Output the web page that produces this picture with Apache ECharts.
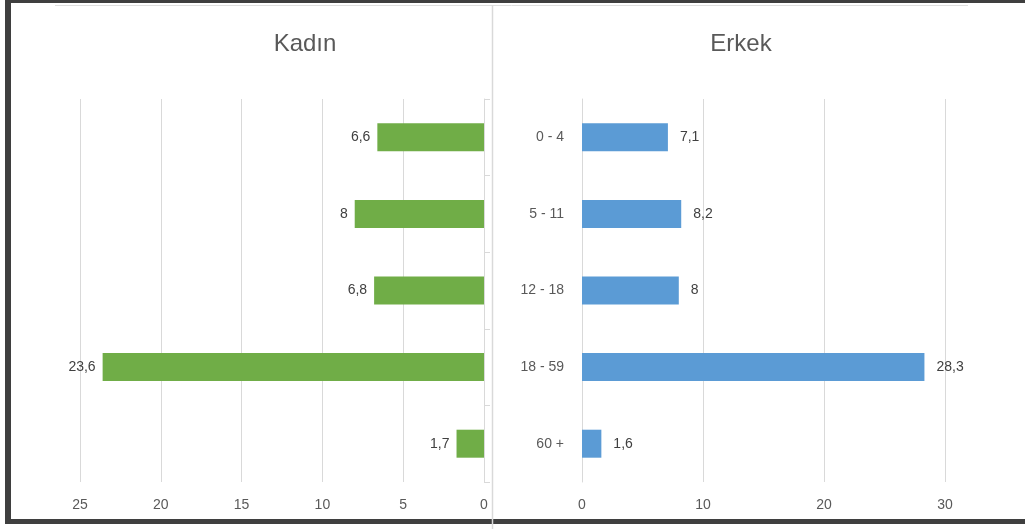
<!DOCTYPE html>
<html>
<head>
<meta charset="utf-8">
<script src="https://cdn.jsdelivr.net/npm/echarts@6/dist/echarts.min.js"></script>
<style>
  html, body { margin: 0; padding: 0; background: #fff; }
  #chart { width: 1025px; height: 529px; }
</style>
</head>
<body>
<div id="chart"></div>
<script>
const categories = ['0 - 4', '5 - 11', '12 - 18', '18 - 59', '60 +']
const kadin = [6.6, 8, 6.8, 23.6, 1.7]
const erkek = [7.1, 8.2, 8, 28.3, 1.6]

const font = 'Liberation Sans'
const fmt = p => String(p.value).replace('.', ',')

const chart = echarts.init(document.getElementById('chart'))

const option = {
  animation: false,
  textStyle: { fontFamily: font },
  graphic: [
    // outer frame
    { type: 'rect', shape: { x: 5, y: 0, width: 1020, height: 3 }, style: { fill: '#3f3f3f' } },
    { type: 'rect', shape: { x: 5, y: 0, width: 6, height: 524 }, style: { fill: '#3f3f3f' } },
    { type: 'rect', shape: { x: 5, y: 519, width: 1020, height: 5 }, style: { fill: '#3f3f3f' } },
    // right chart box edges
    { type: 'line', shape: { x1: 55, y1: 5.5, x2: 968, y2: 5.5 }, style: { stroke: '#dedede', lineWidth: 1 } },
    { type: 'line', shape: { x1: 492.5, y1: 5, x2: 492.5, y2: 529 }, style: { stroke: '#d9d9d9', lineWidth: 1.5 } },
    // titles
    { type: 'text', x: 305, y: 44, style: { text: 'Kadın', fontSize: 24, fontFamily: font, fill: '#595959', textAlign: 'center', textVerticalAlign: 'middle' } },
    { type: 'text', x: 741, y: 44, style: { text: 'Erkek', fontSize: 24, fontFamily: font, fill: '#595959', textAlign: 'center', textVerticalAlign: 'middle' } }
  ],
  grid: [
    { left: 80, top: 99, width: 404, height: 383 },
    { left: 582, top: 99, width: 363, height: 383 }
  ],
  xAxis: [
    {
      gridIndex: 0,
      type: 'value',
      inverse: true,
      min: 0,
      max: 25,
      interval: 5,
      axisLine: { show: false },
      axisTick: { show: false },
      splitLine: { lineStyle: { color: '#d9d9d9' } },
      axisLabel: { color: '#595959', fontSize: 14, margin: 16 }
    },
    {
      gridIndex: 1,
      type: 'value',
      min: 0,
      max: 30,
      interval: 10,
      axisLine: { show: false },
      axisTick: { show: false },
      splitLine: { lineStyle: { color: '#d9d9d9' } },
      axisLabel: { color: '#595959', fontSize: 14, margin: 16 }
    }
  ],
  yAxis: [
    {
      gridIndex: 0,
      type: 'category',
      position: 'right',
      inverse: true,
      data: categories,
      axisLine: { lineStyle: { color: '#d9d9d9' } },
      axisTick: { show: true, length: 6, lineStyle: { color: '#d9d9d9' } },
      axisLabel: { show: false }
    },
    {
      gridIndex: 1,
      type: 'category',
      position: 'left',
      inverse: true,
      data: categories,
      axisLine: { lineStyle: { color: '#d9d9d9' } },
      axisTick: { show: false },
      axisLabel: { color: '#595959', fontSize: 14, margin: 18 }
    }
  ],
  series: [
    {
      name: 'Kadın',
      type: 'bar',
      xAxisIndex: 0,
      yAxisIndex: 0,
      data: kadin,
      barWidth: 28,
      itemStyle: { color: '#70ad47' },
      label: { show: true, position: 'left', distance: 7, color: '#404040', fontSize: 14, formatter: fmt }
    },
    {
      name: 'Erkek',
      type: 'bar',
      xAxisIndex: 1,
      yAxisIndex: 1,
      data: erkek,
      barWidth: 28,
      itemStyle: { color: '#5b9bd5' },
      label: { show: true, position: 'right', distance: 12, color: '#404040', fontSize: 14, formatter: fmt }
    }
  ]
}

chart.setOption(option)
</script>
</body>
</html>
